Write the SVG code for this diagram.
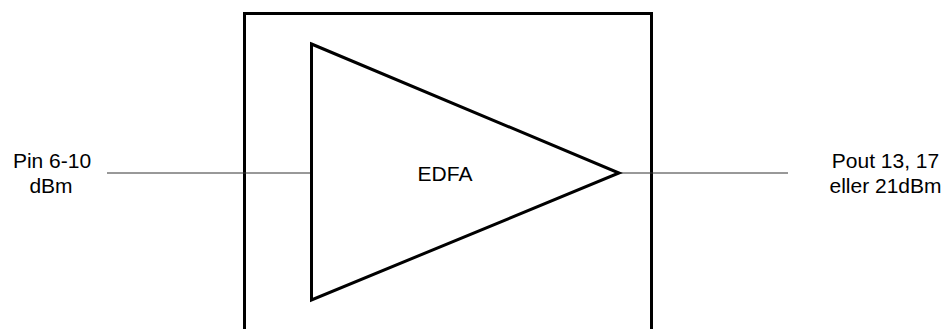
<svg xmlns="http://www.w3.org/2000/svg" width="948" height="329" viewBox="0 0 948 329">
<style>
.lbl{font-family:"Liberation Sans",Arial,sans-serif;font-size:21px;fill:#000;text-anchor:middle}
.thick{fill:none;stroke:#000;stroke-width:3;stroke-linejoin:miter}
.wire{stroke:#333;stroke-width:1;fill:none}
</style>
<rect width="948" height="329" fill="#fff"/>
<g id="box"><path class="thick" d="M244.5,340 V13.5 H651.5 V340"/></g>
<g id="connectors">
<line class="wire" x1="107" y1="173" x2="311" y2="173"/>
<line class="wire" x1="619" y1="173" x2="788" y2="173"/>
</g>
<g id="edfa">
<polygon class="thick" points="311.5,44 619,173 311.5,300"/>
<text class="lbl" x="445" y="181">EDFA</text>
</g>
<g id="pin">
<text class="lbl" x="52" y="168">Pin 6-10</text>
<text class="lbl" x="51" y="193">dBm</text>
</g>
<g id="pout">
<text class="lbl" x="885.5" y="168">Pout 13, 17</text>
<text class="lbl" x="885.5" y="193">eller 21dBm</text>
</g>
</svg>
